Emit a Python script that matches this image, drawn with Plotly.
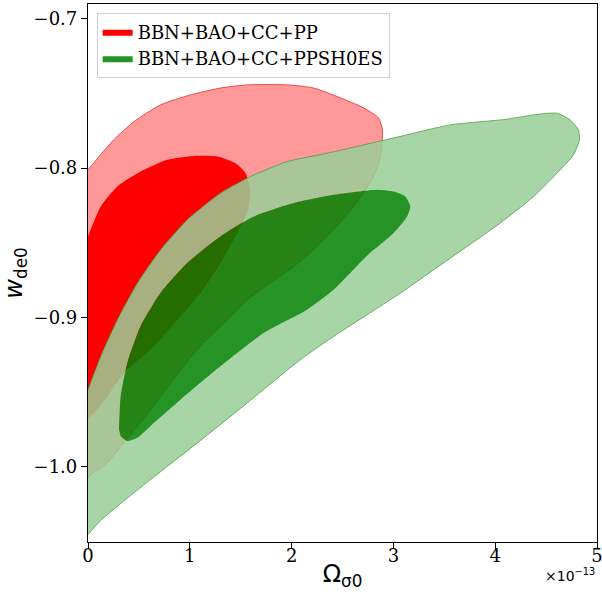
import plotly.graph_objects as go

# ---- data (x in units of 1e-13) ----
red_outer_x = [0, 0.252, 0.448, 0.713, 1.008, 1.302, 1.567, 1.960, 2.215, 2.480, 2.706, 2.853, 2.892,
               2.872, 2.804, 2.706, 2.607, 2.411, 2.215, 2.019, 1.793, 1.567, 1.371, 1.136, 0.910,
               0.713, 0.517, 0.350, 0.193, 0.056, 0]
red_outer_y = [-0.8011, -0.7811, -0.7690, -0.7576, -0.7509, -0.7463, -0.7442, -0.7442, -0.7463, -0.7529,
               -0.7596, -0.7663, -0.7744, -0.7924, -0.8058, -0.8165, -0.8259, -0.8413, -0.8547, -0.8661,
               -0.8768, -0.8881, -0.9015, -0.9169, -0.9350, -0.9531, -0.9705, -0.9839, -0.9973, -1.0040,
               -1.0073]

red_inner_x = [0, 0.125, 0.289, 0.517, 0.779, 1.040, 1.270, 1.449, 1.548, 1.590, 1.580, 1.531, 1.466,
               1.302, 1.106, 0.910, 0.648, 0.353, 0.190, 0.059, 0]
red_inner_y = [-0.8458, -0.8257, -0.8123, -0.8023, -0.7944, -0.7918, -0.7922, -0.7967, -0.8033, -0.8145,
               -0.8257, -0.8346, -0.8435, -0.8636, -0.8837, -0.8993, -0.9194, -0.9372, -0.9529, -0.9640,
               -0.9673]

green_outer_x = [0, 0.125, 0.289, 0.485, 0.713, 0.975, 1.302, 1.597, 1.957, 2.349, 2.709, 3.069, 3.559,
                 4.116, 4.374, 4.606, 4.737, 4.818, 4.828, 4.769, 4.639, 4.377, 4.050, 3.723, 3.396,
                 3.069, 2.742, 2.414, 2.087, 1.564, 1.074, 0.615, 0.321, 0.125, 0]
green_outer_y = [-0.9484, -0.9261, -0.9015, -0.8770, -0.8547, -0.8346, -0.8167, -0.8056, -0.7956, -0.7900,
                 -0.7844, -0.7787, -0.7710, -0.7672, -0.7643, -0.7632, -0.7677, -0.7744, -0.7810, -0.7911,
                 -0.8011, -0.8190, -0.8368, -0.8525, -0.8681, -0.8837, -0.8982, -0.9127, -0.9283, -0.9573,
                 -0.9841, -1.0086, -1.0247, -1.0361, -1.0455]

green_inner_x = [0.304, 0.321, 0.387, 0.517, 0.713, 0.975, 1.302, 1.629, 2.022, 2.414, 2.840, 3.003,
                 3.118, 3.167, 3.135, 3.003, 2.742, 2.414, 2.153, 1.727, 1.302, 0.910, 0.648, 0.485,
                 0.387, 0.321]
green_inner_y = [-0.9752, -0.9529, -0.9305, -0.9060, -0.8837, -0.8636, -0.8458, -0.8324, -0.8234, -0.8179,
                 -0.8145, -0.8157, -0.8190, -0.8257, -0.8324, -0.8435, -0.8587, -0.8815, -0.8948, -0.9104,
                 -0.9328, -0.9551, -0.9707, -0.9807, -0.9830, -0.9797]

labels = ["BBN+BAO+CC+PP", "BBN+BAO+CC+PPSH0ES"]
x_ticks = [0, 1, 2, 3, 4, 5]
y_ticks = [-1.0, -0.9, -0.8, -0.7]

fig = go.Figure()

# red outer (2 sigma)
fig.add_trace(go.Scatter(x=red_outer_x, y=red_outer_y, mode="lines", fill="toself",
                         fillcolor="rgb(255,153,153)", line=dict(color="rgba(230,60,60,0.9)", width=1, shape="spline", smoothing=0.6),
                         showlegend=False, hoverinfo="skip"))
# red inner (1 sigma)
fig.add_trace(go.Scatter(x=red_inner_x, y=red_inner_y, mode="lines", fill="toself",
                         fillcolor="rgb(255,0,0)", line=dict(color="rgba(255,0,0,0)", width=0, shape="spline", smoothing=0.6),
                         name=labels[0], showlegend=True, hoverinfo="skip"))
# green outer band (with hole for inner region)
band_x = green_outer_x + [None] + green_inner_x[::-1]
band_y = green_outer_y + [None] + green_inner_y[::-1]
fig.add_trace(go.Scatter(x=band_x, y=band_y, mode="lines", fill="toself",
                         fillcolor="rgba(153,206,150,0.85)", line=dict(color="rgba(0,0,0,0)", width=0, shape="spline", smoothing=0.6),
                         showlegend=False, hoverinfo="skip"))
fig.add_trace(go.Scatter(x=green_outer_x, y=green_outer_y, mode="lines",
                         line=dict(color="rgba(60,150,60,0.7)", width=1, shape="spline", smoothing=0.6),
                         showlegend=False, hoverinfo="skip"))
# green inner
fig.add_trace(go.Scatter(x=green_inner_x, y=green_inner_y, mode="lines", fill="toself",
                         fillcolor="rgba(0,128,0,0.85)", line=dict(color="rgba(0,0,0,0)", width=0, shape="spline", smoothing=0.6),
                         name=labels[1], showlegend=True, hoverinfo="skip"))

axis_common = dict(showgrid=False, zeroline=False, showline=True, linecolor="black", linewidth=1.2,
                   mirror=True, ticks="outside", ticklen=6, tickwidth=1.2, tickcolor="black",
                   ticklabeloverflow="allow", automargin=False,
                   tickfont=dict(family="DejaVu Serif", size=18, color="black"))

fig.update_xaxes(range=[0, 5], tickvals=x_ticks, ticktext=[str(v) for v in x_ticks],
                 ticklabelstandoff=-9,
                 title=dict(text="Ω<sub>σ0</sub>", font=dict(family="DejaVu Sans", size=24, color="black"), standoff=0),
                 **axis_common)
fig.update_yaxes(range=[-1.0505, -0.690], tickvals=y_ticks, tickformat=".1f",
                 title=dict(text="<i>w</i><sub>de0</sub>", font=dict(family="DejaVu Sans", size=24, color="black"), standoff=8),
                 **axis_common)

fig.add_annotation(text="×10<sup>−13</sup>", x=1, y=-0.062, xref="paper", yref="paper",
                   xanchor="right", yanchor="middle", showarrow=False,
                   font=dict(family="DejaVu Sans", size=14, color="black"))

fig.update_layout(
    width=602, height=604,
    margin=dict(l=88, r=5, t=4, b=62),
    plot_bgcolor="white", paper_bgcolor="white",
    legend=dict(x=0.017, y=0.984, xanchor="left", yanchor="top",
                font=dict(family="DejaVu Serif", size=18, color="black"),
                bgcolor="rgba(255,255,255,0.8)", bordercolor="rgb(210,210,210)", borderwidth=1,
                tracegroupgap=0),
)

fig.write_html("out.html")
